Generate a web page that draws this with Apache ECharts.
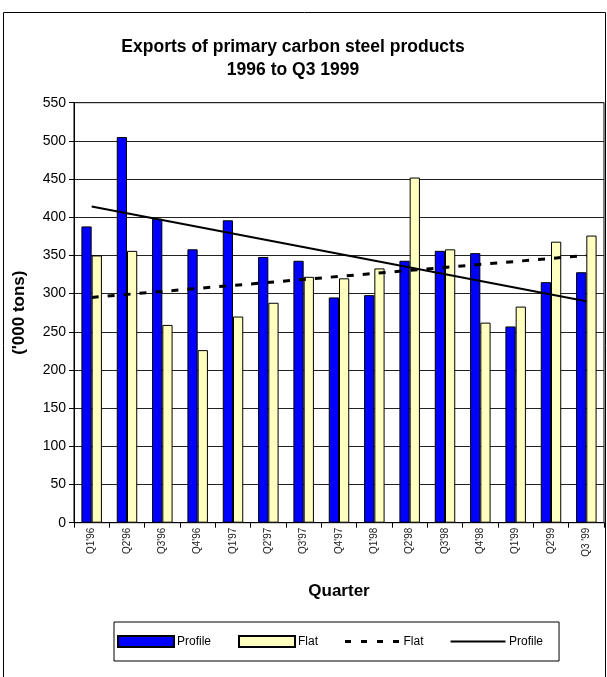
<!DOCTYPE html>
<html>
<head>
<meta charset="utf-8">
<script src="https://cdn.jsdelivr.net/npm/echarts@6/dist/echarts.min.js"></script>
<style>
  html, body { margin: 0; padding: 0; background: #fff; }
  #chart { width: 607px; height: 677px; }
</style>
</head>
<body>
<div id="chart"></div>
<script>
const quarters = ["Q1'96", "Q2'96", "Q3'96", "Q4'96", "Q1'97", "Q2'97", "Q3'97", "Q4'97",
                  "Q1'98", "Q2'98", "Q3'98", "Q4'98", "Q1'99", "Q2'99", "Q3 '99"];
const profile = [388, 505, 398, 358, 396, 348, 343, 295, 298, 343, 356, 353, 257, 315, 328];
const flat = [350, 356, 259, 226, 270, 288, 322, 320, 333, 452, 358, 262, 283, 368, 376];
// trend lines, start and end values
const profileTrend = [414, 290];
const flatTrend = [295, 350];

const font = "'Liberation Sans', Arial, sans-serif";
const chart = echarts.init(document.getElementById("chart"));

function trendData(ends) {
  return [[quarters[0], ends[0]], [quarters[quarters.length - 1], ends[1]]];
}

// legend icons for the trend lines (the two moveTo's fix the 55x11 box)
const solidIcon = "path://M0,0M55,11M0,4.5L55,4.5L55,6.5L0,6.5Z";
const dashIcon = "path://M0,0M55,11M0,4L6,4L6,7L0,7ZM16,4L22,4L22,7L16,7ZM32,4L38,4L38,7L32,7ZM48,4L54,4L54,7L48,7Z";

const option = {
  animation: false,
  textStyle: { fontFamily: font, color: "#000" },
  title: {
    text: "Exports of primary carbon steel products\n1996 to Q3 1999",
    left: 288,
    top: 31,
    textAlign: "center",
    textStyle: { fontSize: 17.5, fontWeight: "bold", lineHeight: 23, color: "#000", fontFamily: font }
  },
  graphic: [{
    type: "rect",
    shape: { x: 3.5, y: 12.5, width: 602, height: 670 },
    style: { fill: null, stroke: "#000", lineWidth: 1 },
    silent: true
  }],
  legend: {
    left: 114,
    top: 622,
    padding: [13, 16, 13, 3],
    itemGap: 27,
    itemWidth: 56,
    itemHeight: 11,
    borderColor: "#000",
    borderWidth: 1,
    textStyle: { fontSize: 12, color: "#000", fontFamily: font, padding: [0, 0, 0, -2] },
    formatter: name => name.trim(),
    data: [
      { name: "Profile", icon: "rect" },
      { name: "Flat", icon: "rect" },
      { name: "Flat ", icon: dashIcon, itemStyle: { borderWidth: 0 } },
      { name: "Profile ", icon: solidIcon, itemStyle: { borderWidth: 0 } }
    ]
  },
  grid: { left: 74, right: 3, top: 102.7, bottom: 154.3, show: true, borderColor: "#000", borderWidth: 1, containLabel: false },
  xAxis: {
    type: "category",
    data: quarters,
    name: "Quarter",
    nameLocation: "middle",
    nameGap: 60,
    nameTextStyle: { fontSize: 17, fontWeight: "bold", color: "#000", fontFamily: font },
    axisLine: { lineStyle: { color: "#000", width: 1 } },
    axisTick: { show: true, length: 5, lineStyle: { color: "#000" } },
    axisLabel: { rotate: 90, fontSize: 10, color: "#222", margin: 5, interval: 0, fontFamily: font }
  },
  yAxis: {
    type: "value",
    min: 0,
    max: 550,
    interval: 50,
    name: "('000 tons)",
    nameLocation: "middle",
    nameRotate: 90,
    nameGap: 46,
    nameTextStyle: { fontSize: 17, fontWeight: "bold", color: "#000", fontFamily: font },
    axisLine: { show: true, lineStyle: { color: "#000", width: 1 } },
    axisTick: { show: true, length: 5, lineStyle: { color: "#000" } },
    axisLabel: { fontSize: 14, color: "#000", margin: 8, fontFamily: font },
    splitLine: { lineStyle: { color: "#222", width: 1 } }
  },
  series: [
    {
      name: "Profile",
      type: "bar",
      data: profile,
      barGap: "0%",
      barCategoryGap: "42%",
      itemStyle: { color: "#0000FF", borderColor: "#000", borderWidth: 1 }
    },
    {
      name: "Flat",
      type: "bar",
      data: flat,
      itemStyle: { color: "#FFFFC0", borderColor: "#000", borderWidth: 1 }
    },
    {
      name: "Flat ",
      type: "line",
      data: trendData(flatTrend),
      symbol: "none",
      z: 5,
      lineStyle: { color: "#000", width: 3, type: [7, 9], cap: "butt" },
      itemStyle: { color: "#000" }
    },
    {
      name: "Profile ",
      type: "line",
      data: trendData(profileTrend),
      symbol: "none",
      z: 5,
      lineStyle: { color: "#000", width: 2, type: "solid" },
      itemStyle: { color: "#000" }
    }
  ]
};

chart.setOption(option);
</script>
</body>
</html>
